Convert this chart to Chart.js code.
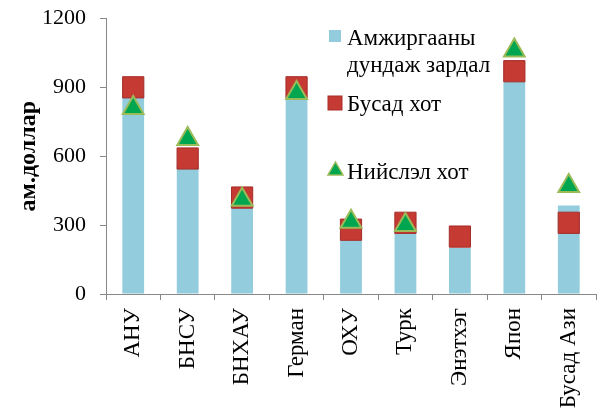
<!DOCTYPE html>
<html>
<head>
<meta charset="utf-8">
<script src="https://cdn.jsdelivr.net/npm/chart.js@4/dist/chart.umd.min.js"></script>
<style>
  html, body { margin: 0; padding: 0; background: #fff; }
  #wrap { width: 612px; height: 412px; position: relative; }
</style>
</head>
<body>
<div id="wrap"><canvas id="grafica"></canvas></div>
<script>
// datos
const ulsuud = ["АНУ", "БНСУ", "БНХАУ", "Герман", "ОХУ", "Турк", "Энэтхэг", "Япон", "Бусад Ази"]
const dundajZardal = [870, 560, 380, 850, 270, 270, 200, 930, 385]
const busadHot = [900, 590, 420, 900, 280, 310, 250, 970, 310]
const niislelHot = [810, 675, 410, 875, 315, 300, null, 1060, 470]
const yTicks = [0, 300, 600, 900, 1200]

const serif = "'Liberation Serif', 'Times New Roman', serif"

// leyenda dibujada a mano (como en la imagen, dentro del area)
const leyenda = {
    id: 'leyenda',
    afterDraw(chart) {
        const ctx = chart.ctx
        ctx.save()
        ctx.font = "23px " + serif
        ctx.textBaseline = "alphabetic"
        // Amjirgaany dundaj zardal
        ctx.fillStyle = "#93CDDD"
        ctx.fillRect(329, 30, 12, 12)
        ctx.fillStyle = "#000"
        ctx.fillText("Амжиргааны", 347, 45)
        ctx.fillText("дундаж зардал", 347, 72)
        // Busad hot
        ctx.fillStyle = "#C53A32"
        ctx.strokeStyle = "#A52E2A"
        ctx.fillRect(328, 96, 14, 14)
        ctx.strokeRect(328, 96, 14, 14)
        ctx.fillStyle = "#000"
        ctx.fillText("Бусад хот", 347, 111)
        // Niislel hot
        ctx.beginPath()
        ctx.moveTo(335.5, 162)
        ctx.lineTo(343, 175)
        ctx.lineTo(328, 175)
        ctx.closePath()
        ctx.fillStyle = "#00A54F"
        ctx.fill()
        ctx.strokeStyle = "#9BBB59"
        ctx.lineWidth = 1.5
        ctx.stroke()
        ctx.fillStyle = "#000"
        ctx.fillText("Нийслэл хот", 347, 179)
        ctx.restore()
    }
}

const $grafica = document.getElementById("grafica")
new Chart($grafica, {
    data: {
        labels: ulsuud,
        datasets: [
            {
                type: 'bar',
                label: 'Амжиргааны дундаж зардал',
                data: dundajZardal,
                backgroundColor: '#93CDDD',
                barPercentage: 0.4,
                categoryPercentage: 1,
                order: 3
            },
            {
                type: 'line',
                label: 'Бусад хот',
                data: busadHot,
                showLine: false,
                pointStyle: 'rect',
                pointRadius: 15,
                pointBackgroundColor: '#C53A32',
                pointBorderColor: '#A52E2A',
                pointBorderWidth: 1,
                order: 2
            },
            {
                type: 'line',
                label: 'Нийслэл хот',
                data: niislelHot,
                showLine: false,
                pointStyle: 'triangle',
                pointRadius: 12,
                pointBackgroundColor: '#00A54F',
                pointBorderColor: '#9BBB59',
                pointBorderWidth: 2,
                order: 1
            }
        ]
    },
    options: {
        responsive: true,
        maintainAspectRatio: false,
        animation: false,
        layout: { padding: { left: 0, right: 2, top: 0, bottom: 0 } },
        plugins: {
            legend: { display: false },
            tooltip: { enabled: false }
        },
        scales: {
            x: {
                offset: true,
                grid: { offset: true, drawOnChartArea: false, color: '#888', tickLength: 6 },
                border: { color: '#888' },
                ticks: {
                    color: '#000',
                    font: { family: serif, size: 23 },
                    minRotation: 90,
                    maxRotation: 90,
                    padding: 8
                },
                afterFit(scale) { scale.height = 118 }
            },
            y: {
                min: 0,
                max: 1200,
                afterBuildTicks(scale) { scale.ticks = yTicks.map(v => ({ value: v })) },
                grid: { drawOnChartArea: false, color: '#888', tickLength: 6 },
                border: { color: '#888' },
                ticks: {
                    color: '#000',
                    font: { family: serif, size: 22, lineHeight: 0.4 },
                    padding: 14,
                    callback: (v) => String(v)
                },
                title: {
                    display: true,
                    text: 'ам.доллар',
                    color: '#000',
                    font: { family: serif, size: 24, weight: 'bold' },
                    padding: { top: 14, bottom: 0 }
                },
                afterFit(scale) { scale.width = 106 }
            }
        }
    },
    plugins: [leyenda]
});
</script>
</body>
</html>
